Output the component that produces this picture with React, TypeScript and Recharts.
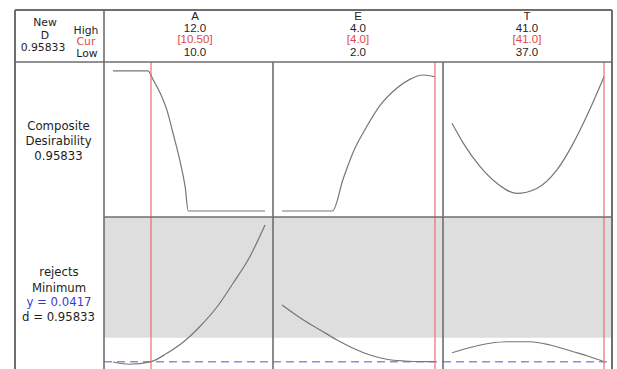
import { LineChart, Line, XAxis, YAxis, ReferenceLine, ReferenceArea } from "recharts";

// factor settings shown in the header
const FACTORS = ["A", "E", "T"];
const HIGH = ["12.0", "4.0", "41.0"];
const CUR = ["[10.50]", "[4.0]", "[41.0]"];
const LOW = ["10.0", "2.0", "37.0"];
const CUR_VAL = [10.5, 4.0, 41.0];

// composite desirability traces (top row)
const aDx = [10.0, 10.46, 10.53, 10.62, 10.71, 10.79, 10.88, 10.95, 10.99, 12.0];
const aD = [1, 1, 0.936, 0.843, 0.72, 0.555, 0.36, 0.17, 0, 0];
const eDx = [2.0, 2.66, 2.8, 2.93, 3.11, 3.28, 3.5, 3.67, 3.85, 4.0];
const eD = [0, 0, 0.23, 0.42, 0.605, 0.752, 0.876, 0.94, 0.971, 0.958];
const tDx = [37.0, 37.3, 37.74, 38.18, 38.7, 39.23, 39.76, 40.19, 40.54, 41.0];
const tD = [0.626, 0.483, 0.316, 0.198, 0.126, 0.161, 0.293, 0.483, 0.674, 0.958];

// predicted rejects traces (bottom row)
const aYx = [10.0, 10.22, 10.5, 10.71, 10.93, 11.14, 11.37, 11.58, 11.8, 12.0];
const aY = [0.03, -0.06, 0.0417, 0.38, 0.84, 1.44, 2.24, 3.18, 4.24, 5.51];
const eYx = [2.0, 2.28, 2.5, 2.72, 2.93, 3.15, 3.37, 3.59, 3.72, 4.0];
const eY = [2.31, 1.71, 1.31, 0.91, 0.58, 0.31, 0.14, 0.07, 0.05, 0.0417];
const tYx = [37.0, 37.56, 38.0, 38.44, 39.05, 39.58, 40.19, 40.63, 41.0];
const tY = [0.4, 0.64, 0.78, 0.84, 0.84, 0.71, 0.44, 0.24, 0.0417];

const Y_CUR = 0.0417;
const Y_UPPER = 1;

const zip = (xs: number[], vs: number[]) => xs.map((x, i) => ({ x, v: vs[i] }));
const TOP = [zip(aDx, aD), zip(eDx, eD), zip(tDx, tD)];
const BOTTOM = [zip(aYx, aY), zip(eYx, eY), zip(tYx, tY)];

// layout
const COLS = [
  { left: 104, width: 169, domain: [9.882, 12.105], textX: 195 },
  { left: 273, width: 170, domain: [1.882, 4.105], textX: 358 },
  { left: 443, width: 169, domain: [36.763, 41.21], textX: 527 },
];
const ROW_TOP = { top: 62, height: 155, domain: [-0.043, 1.064] };
const ROW_BOT = { top: 217, height: 152, domain: [-0.25, 5.83] };

const INK = "#1e1e1e";
const RED = "#e04a46";
const BLUE = "#3b3bd4";
const FRAME = "#6e6e6e";

function Panel({ col, row, data, cur, bottom }: any) {
  return (
    <div style={{ position: "absolute", left: col.left, top: row.top, width: col.width, height: row.height }}>
      <LineChart width={col.width} height={row.height} data={data} margin={{ top: 0, right: 0, bottom: 0, left: 0 }}>
        <XAxis type="number" dataKey="x" domain={col.domain} hide allowDataOverflow />
        <YAxis type="number" domain={row.domain} hide allowDataOverflow />
        {bottom && <ReferenceArea y1={Y_UPPER} y2={row.domain[1]} fill="#dedede" fillOpacity={1} stroke="none" />}
        {bottom && <ReferenceLine y={Y_CUR} stroke="#8f8fd8" strokeWidth={1.5} strokeDasharray="8 5" />}
        <Line dataKey="v" type="monotone" stroke="#767676" strokeWidth={1.2} dot={false} isAnimationActive={false} />
        <ReferenceLine x={cur} stroke="#ea6f6b" strokeWidth={1.2} />
      </LineChart>
    </div>
  );
}

export default function App() {
  const label = { fontFamily: "DejaVu Sans", fontSize: 11.7, fill: INK, textAnchor: "middle" as const };
  const corner = { ...label, fontSize: 10.8 };
  const head = { fontFamily: "Liberation Sans", fontSize: 11.5, fill: INK, textAnchor: "middle" as const };
  return (
    <div style={{ position: "absolute", left: 0, top: 0, width: 617, height: 369, overflow: "hidden", background: "#fff" }}>
      {COLS.map((c, i) => (
        <Panel key={"t" + i} col={c} row={ROW_TOP} data={TOP[i]} cur={CUR_VAL[i]} />
      ))}
      {COLS.map((c, i) => (
        <Panel key={"b" + i} col={c} row={ROW_BOT} data={BOTTOM[i]} cur={CUR_VAL[i]} bottom />
      ))}
      <svg width={617} height={369} style={{ position: "absolute", left: 0, top: 0, pointerEvents: "none" }}>
        <g stroke={FRAME} strokeWidth={1.6}>
          <line x1={15} y1={10} x2={612} y2={10} strokeWidth={2} />
          <line x1={15} y1={10} x2={15} y2={369} strokeWidth={2} />
          <line x1={612} y1={10} x2={612} y2={369} strokeWidth={2} />
          <line x1={15} y1={62} x2={612} y2={62} />
          <line x1={104} y1={10} x2={104} y2={369} />
          <line x1={273} y1={62} x2={273} y2={369} />
          <line x1={443} y1={62} x2={443} y2={369} />
          <line x1={104} y1={217} x2={612} y2={217} />
        </g>

        <text x={45} y={25.5} {...corner}>New</text>
        <text x={45} y={38.5} {...corner}>D</text>
        <text x={43} y={51} {...corner}>0.95833</text>
        <text x={86} y={33.5} {...corner}>High</text>
        <text x={86} y={45} {...corner} fill={RED}>Cur</text>
        <text x={87} y={56.5} {...corner}>Low</text>

        {COLS.map((c, i) => (
          <g key={"h" + i}>
            <text x={c.textX} y={20} {...head}>{FACTORS[i]}</text>
            <text x={c.textX} y={31.5} {...head}>{HIGH[i]}</text>
            <text x={c.textX} y={43} {...head} fill={RED}>{CUR[i]}</text>
            <text x={c.textX} y={55.5} {...head}>{LOW[i]}</text>
          </g>
        ))}

        <text x={58.5} y={130} {...label}>Composite</text>
        <text x={58.5} y={144.5} {...label}>Desirability</text>
        <text x={58.5} y={159.5} {...label}>0.95833</text>

        <text x={59} y={276} {...label}>rejects</text>
        <text x={59} y={291.5} {...label}>Minimum</text>
        <text x={59} y={306} {...label} fill={BLUE}>y = 0.0417</text>
        <text x={58.5} y={321} {...label}>d = 0.95833</text>
      </svg>
    </div>
  );
}
